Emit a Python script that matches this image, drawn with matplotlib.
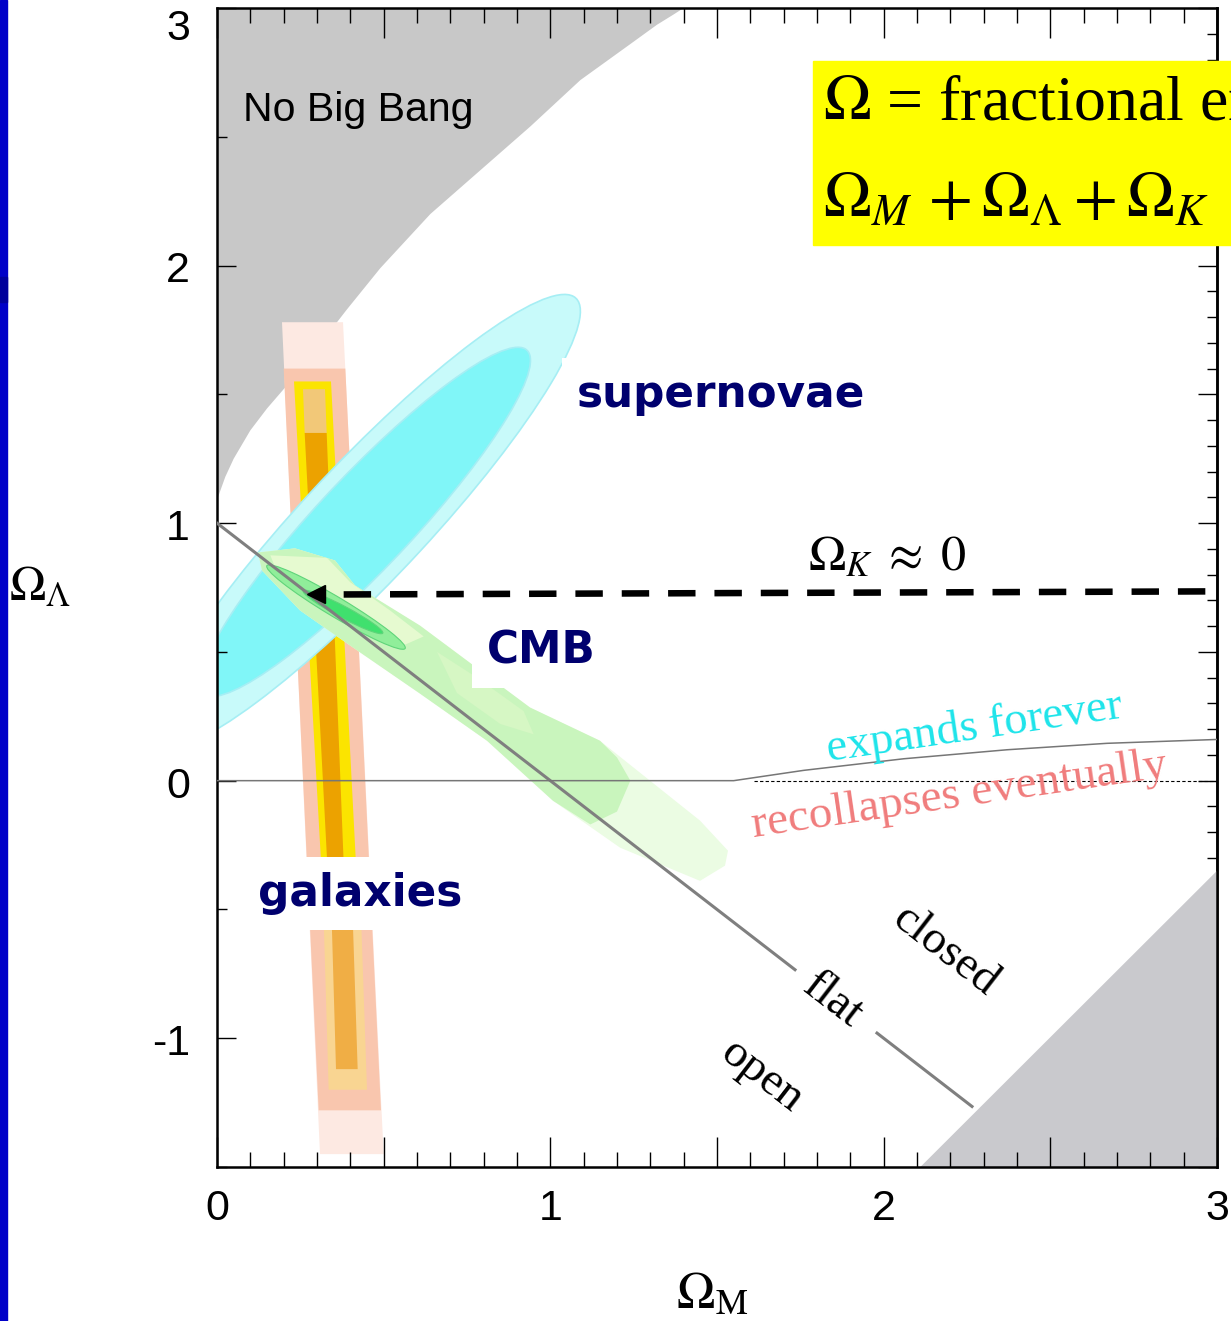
import matplotlib.pyplot as plt
from matplotlib.patches import Ellipse, Rectangle
from matplotlib.ticker import MultipleLocator, NullFormatter, FuncFormatter

plt.rcParams['mathtext.fontset'] = 'stix'

# tick labels
y_ticks = [3, 2, 1, 0, -1]
y_tick_labels = ['3', '2', '1', '0', '-1']

# "No Big Bang" boundary (Omega_M, Omega_Lambda)
nbb_x = [0.0, 0.025, 0.05, 0.10, 0.15, 0.20, 0.30, 0.39, 0.49, 0.64, 0.79, 0.94, 1.09,
         1.24, 1.32, 1.37, 1.40]
nbb_y = [1.09, 1.18, 1.25, 1.36, 1.445, 1.52, 1.68, 1.83, 1.99, 2.20, 2.37, 2.54, 2.72,
         2.86, 2.935, 2.975, 3.0]

# lower-right excluded wedge edge
wedge_x = [2.11, 3.0]
wedge_y = [-1.5, -0.35]

# flat universe line, split around its label
flat_x1, flat_y1 = [0.0, 1.734], [1.0, -0.734]
flat_x2, flat_y2 = [1.98, 2.265], [-0.98, -1.265]

# expands / recollapses boundary
exp_x = [0.0, 1.55, 1.76, 2.06, 2.37, 2.67, 3.0]
exp_y = [0.0, 0.0, 0.04, 0.085, 0.12, 0.145, 0.16]

# supernovae confidence ellipses (outer, inner)
sn_center = [(0.445, 1.005), (0.445, 1.005)]
sn_length = [2.15, 1.65]
sn_width = [0.40, 0.31]
sn_angle = [54.5, 54.5]
sn_colors = ['#c8fafa', '#80f6f8']

# galaxy cluster band layers: y ends, left edge, right edge, colour
gal_layers = [
    ([1.78, -1.45], [0.195, 0.309], [0.378, 0.500], '#fde9e2'),
    ([1.60, -1.28], [0.200, 0.305], [0.385, 0.492], '#f9c6ae'),
    ([1.55, -0.45], [0.231, 0.318], [0.342, 0.422], '#fbe400'),
    ([-0.45, -1.20], [0.318, 0.335], [0.430, 0.450], '#f9d592'),
    ([1.52, 1.35], [0.258, 0.263], [0.324, 0.329], '#f2c878'),
    ([1.35, -0.45], [0.263, 0.336], [0.329, 0.384], '#eca200'),
    ([-0.45, -1.12], [0.342, 0.357], [0.405, 0.422], '#f0ae45'),
]

# CMB band outlines
cmb_pale_x = [0.123, 0.234, 0.354, 0.414, 0.609, 0.750, 0.939, 1.149, 1.299, 1.449, 1.533,
              1.524, 1.449, 1.209, 1.008, 0.810, 0.609, 0.399, 0.249, 0.135]
cmb_pale_y = [0.886, 0.902, 0.855, 0.758, 0.602, 0.466, 0.284, 0.155, 0.0, -0.155, -0.272,
              -0.330, -0.389, -0.260, -0.078, 0.155, 0.338, 0.525, 0.661, 0.816]
cmb_main_x = [0.123, 0.234, 0.354, 0.414, 0.609, 0.750, 0.939, 1.149, 1.20, 1.24,
              1.20, 1.12, 1.008, 0.810, 0.609, 0.399, 0.249, 0.135]
cmb_main_y = [0.886, 0.902, 0.855, 0.758, 0.602, 0.466, 0.284, 0.155, 0.09, 0.0,
              -0.12, -0.17, -0.078, 0.155, 0.338, 0.525, 0.661, 0.816]
cmb_core1_x = [0.16, 0.33, 0.40, 0.52, 0.62, 0.55, 0.42, 0.30, 0.18]
cmb_core1_y = [0.875, 0.865, 0.77, 0.66, 0.56, 0.52, 0.60, 0.70, 0.81]
cmb_core2_x = [0.66, 0.78, 0.92, 0.95, 0.85, 0.72]
cmb_core2_y = [0.50, 0.40, 0.27, 0.18, 0.22, 0.34]

# CMB inner ellipses (outer ring, dark core)
cmb_ell_center = [(0.357, 0.674), (0.378, 0.655)]
cmb_ell_length = [0.525, 0.29]
cmb_ell_width = [0.07, 0.042]
cmb_ell_angle = [-38.0, -34.8]
cmb_ell_colors = ['#90ee9a', '#40e06e']

# flat-universe pointer
arrow_x = [0.38, 3.0]
arrow_y = [0.723, 0.735]
arrow_tip = (0.296, 0.723)

W, H = 1231, 1321
fig = plt.figure(figsize=(W / 100, H / 100), dpi=100)
ax = fig.add_axes([217 / W, 1 - 1167 / H, 1000 / W, 1159 / H])
ax.set_xlim(0, 3)
ax.set_ylim(-1.5, 3)

# excluded regions
ax.fill(nbb_x + [0.0], nbb_y + [3.0], color='#c8c8c8', lw=0, zorder=1)
ax.fill(wedge_x + [3.0], wedge_y + [-1.5], color='#c9c9cd', lw=0, zorder=1)

# galaxy clusters
for ys, left, right, col in gal_layers:
    ax.fill(left + right[::-1], ys + ys[::-1], color=col, lw=0, zorder=1.2)

# supernovae
for c, ln, wd, ang, col in zip(sn_center, sn_length, sn_width, sn_angle, sn_colors):
    ax.add_patch(Ellipse(c, ln, wd, angle=ang, facecolor=col,
                         edgecolor='#a6eef4', lw=1.2, zorder=1.4))

# CMB
ax.fill(cmb_pale_x, cmb_pale_y, color='#ebfce3', lw=0, zorder=1.6)
ax.fill(cmb_main_x, cmb_main_y, color='#c9f5bd', lw=0, zorder=1.7)
ax.fill(cmb_core1_x, cmb_core1_y, color='#e6fad0', lw=0, zorder=1.8)
ax.fill(cmb_core2_x, cmb_core2_y, color='#d6f7c4', lw=0, zorder=1.8)
for c, ln, wd, ang, col in zip(cmb_ell_center, cmb_ell_length, cmb_ell_width,
                              cmb_ell_angle, cmb_ell_colors):
    ax.add_patch(Ellipse(c, ln, wd, angle=ang, facecolor=col,
                         edgecolor='#5fd47a', lw=0.8, zorder=1.9))

# geometry lines
ax.plot(flat_x1, flat_y1, color='#7f7f7f', lw=2.2, zorder=3)
ax.plot(flat_x2, flat_y2, color='#7f7f7f', lw=2.2, zorder=3)
ax.plot(exp_x, exp_y, color='#767676', lw=1.1, zorder=3)
ax.plot([1.61, 3.0], [0, 0], color='black', lw=0.8, dashes=(3, 2), zorder=3)

# pointer to the flat line
ax.plot(arrow_x, arrow_y, color='black', lw=4.7, dashes=(4.2, 2.9),
        dash_capstyle='butt', zorder=4)
ax.plot(*arrow_tip, marker='<', ms=13.5, color='black', zorder=4)

# labels inside the plot
ax.text(0.078, 2.561, 'No Big Bang', fontsize=29.5, family='Liberation Sans', zorder=5)
navy = '#00006e'
box = dict(facecolor='white', edgecolor='none', boxstyle='square,pad=0.35')
ax.text(1.08, 1.45, 'supernovae', fontsize=31.5, weight='bold', color=navy,
        family='DejaVu Sans', bbox=box, zorder=5)
ax.text(0.81, 0.455, 'CMB', fontsize=31.5, weight='bold', color=navy,
        family='DejaVu Sans', bbox=box, zorder=5)
ax.text(0.123, -0.486, 'galaxies', fontsize=31.5, weight='bold', color=navy,
        family='DejaVu Sans', bbox=box, zorder=5)

ax.text(1.773, 0.816, r'$\Omega_K\;\approx\;0$', fontsize=36, zorder=5)
serif = 'Liberation Serif'
ax.text(2.277, 0.159, 'expands forever', fontsize=33.5, family=serif, color='#1ee4ea',
        rotation=8.4, rotation_mode='anchor', ha='center', va='baseline', zorder=5)
ax.text(2.232, -0.101, 'recollapses eventually', fontsize=34, family=serif,
        color='#f07c7c', rotation=8.3, rotation_mode='anchor', ha='center',
        va='baseline', zorder=5)
for txt, x, y in [('closed', 2.184, -0.661), ('flat', 1.845, -0.855), ('open', 1.635, -1.146)]:
    ax.text(x, y, txt, fontsize=34, family=serif, rotation=-37.7,
            rotation_mode='anchor', ha='center', va='center', zorder=5)

# ticks
for s in ax.spines.values():
    s.set_linewidth(1.8)
ax.xaxis.set_major_locator(MultipleLocator(0.5))
ax.xaxis.set_minor_locator(MultipleLocator(0.1))
ax.xaxis.set_major_formatter(FuncFormatter(lambda v, p: f'{v:.0f}' if v == int(v) else ''))
ax.yaxis.set_major_locator(MultipleLocator(1))
ax.yaxis.set_minor_locator(MultipleLocator(0.5))
ax.tick_params(axis='x', which='both', direction='in', top=True, bottom=True, width=1)
ax.tick_params(axis='x', which='major', length=21.6, pad=16, labelsize=31)
ax.tick_params(axis='x', which='minor', length=10.8)
ax.tick_params(axis='y', which='both', direction='in', left=True, right=False,
               labelleft=False, width=1)
ax.tick_params(axis='y', which='major', length=14)
ax.tick_params(axis='y', which='minor', length=7)
for lbl in ax.get_xticklabels():
    lbl.set_family('Liberation Sans')

sec = ax.secondary_yaxis('right')
sec.yaxis.set_major_locator(MultipleLocator(0.5))
sec.yaxis.set_minor_locator(MultipleLocator(0.1))
sec.yaxis.set_major_formatter(NullFormatter())
sec.tick_params(axis='y', which='both', direction='in', width=1)
sec.tick_params(axis='y', which='major', length=14)
sec.tick_params(axis='y', which='minor', length=7)
sec.spines['right'].set_linewidth(1.8)

# y tick labels sit slightly below their ticks
for v, lab in zip(y_ticks, y_tick_labels):
    shift = 0.08 if v == 3 else 0.023
    ax.text(-0.027, v - shift, lab, transform=ax.get_yaxis_transform(), ha='right',
            va='center', fontsize=31, family='Liberation Sans')

# axis titles
fig.text(676 / W, 1 - 1308 / H, r'$\Omega_{\rm M}$', fontsize=37, va='baseline')
fig.text(9 / W, 1 - 600 / H, r'$\Omega_\Lambda$', fontsize=35, va='baseline')

# slide trim and definition box
fig.patches.append(Rectangle((0, 0), 7 / W, 1, transform=fig.transFigure,
                             color='#0000c8', zorder=1))
fig.patches.append(Rectangle((0, 1 - 302 / H), 7 / W, 25 / H, transform=fig.transFigure,
                             color='#00009c', zorder=1))
fig.patches.append(Rectangle((813 / W, 1 - 245 / H), 0.5, 184 / H,
                             transform=fig.transFigure, color='#ffff00', zorder=2))
fig.text(823 / W, 1 - 120 / H, r'$\Omega$ = fractional energy density', fontsize=46,
         family=serif, va='baseline', zorder=3)
fig.text(823 / W, 1 - 217 / H, r'$\Omega_M\,+\Omega_\Lambda+\Omega_K$',
         fontsize=46, va='baseline', zorder=3)

fig.savefig('out.png', dpi=100)
